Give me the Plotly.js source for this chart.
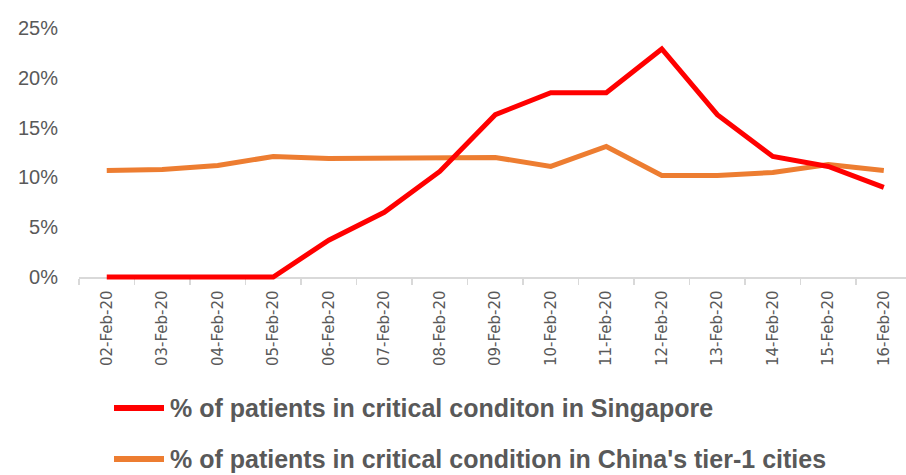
<!DOCTYPE html>
<html>
<head>
<meta charset="utf-8">
<script src="https://cdn.plot.ly/plotly-3.0.1.min.js"></script>
<style>html,body{margin:0;padding:0;background:#fff;}#chart{width:906px;height:475px;}</style>
</head>
<body>
<div id="chart"></div>
<script>
const dates = ["02-Feb-20","03-Feb-20","04-Feb-20","05-Feb-20","06-Feb-20","07-Feb-20","08-Feb-20","09-Feb-20","10-Feb-20","11-Feb-20","12-Feb-20","13-Feb-20","14-Feb-20","15-Feb-20","16-Feb-20"];
const singapore = [0, 0, 0, 0, 0.037, 0.065, 0.106, 0.163, 0.185, 0.185, 0.229, 0.163, 0.121, 0.111, 0.090];
const chinaTier1 = [0.107, 0.108, 0.112, 0.121, 0.119, 0.119, 0.120, 0.120, 0.111, 0.131, 0.102, 0.102, 0.105, 0.113, 0.107];
const seriesNames = ["% of patients in critical conditon in Singapore", "% of patients in critical condition in China's tier-1 cities"];
const seriesColors = ["#FF0000", "#ED7D31"];
const yTickVals = [0, 0.05, 0.10, 0.15, 0.20, 0.25];
const yTickText = ["0%", "5%", "10%", "15%", "20%", "25%"];

const W = 906, H = 475;
const zeroPx = 277, topPx = 28, extraBelow = 4;
const mL = 79, mR = 0, mT = topPx, mB = H - (zeroPx + extraBelow);
const pw = W - mL - mR, ph = H - mT - mB;
const yMin = -0.25 * extraBelow / (zeroPx - topPx);
const px = x => (x - mL) / pw;
const py = y => (H - mB - y) / ph;

const traces = [
  {x: dates, y: chinaTier1, name: seriesNames[1], type: 'scatter', mode: 'lines',
   line: {color: seriesColors[1], width: 5}},
  {x: dates, y: singapore, name: seriesNames[0], type: 'scatter', mode: 'lines',
   line: {color: seriesColors[0], width: 5}}
];

const legendY = [408, 459];
const shapes = [], annotations = [];
for (let i = 0; i < 2; i++) {
  shapes.push({type: 'line', xref: 'paper', yref: 'paper',
    x0: px(114), x1: px(164), y0: py(legendY[i]), y1: py(legendY[i]),
    line: {color: seriesColors[i], width: 6}});
  annotations.push({xref: 'paper', yref: 'paper', x: px(168), y: py(legendY[i]),
    xanchor: 'left', yanchor: 'middle', showarrow: false, text: seriesNames[i],
    font: {family: "'Liberation Sans', Arial, sans-serif", size: 25, color: '#595959', weight: 'bold'}});
}

const layout = {
  width: W, height: H,
  margin: {l: mL, r: mR, t: mT, b: mB, pad: 0},
  paper_bgcolor: '#fff', plot_bgcolor: '#fff',
  showlegend: false,
  xaxis: {type: 'category', range: [-0.5, 14.4], showgrid: false, zeroline: false,
    anchor: 'free', position: extraBelow / ph, layer: 'below traces',
    showline: true, linecolor: '#d9d9d9', linewidth: 1.5,
    ticks: 'outside', tickson: 'boundaries', ticklen: 6, tickcolor: '#d9d9d9', tickwidth: 1.5,
    tickangle: -90, ticklabelstandoff: 6,
    tickfont: {family: "'DejaVu Sans', sans-serif", size: 15, color: '#595959'}},
  yaxis: {range: [yMin, 0.25], tickvals: yTickVals, ticktext: yTickText, showgrid: false,
    zeroline: false, showline: false, ticks: '', ticklabelstandoff: 20,
    tickfont: {family: "'Liberation Sans', Arial, sans-serif", size: 20, color: '#595959'}},
  shapes: shapes, annotations: annotations
};

Plotly.newPlot('chart', traces, layout, {displayModeBar: false, staticPlot: true});
</script>
</body>
</html>
